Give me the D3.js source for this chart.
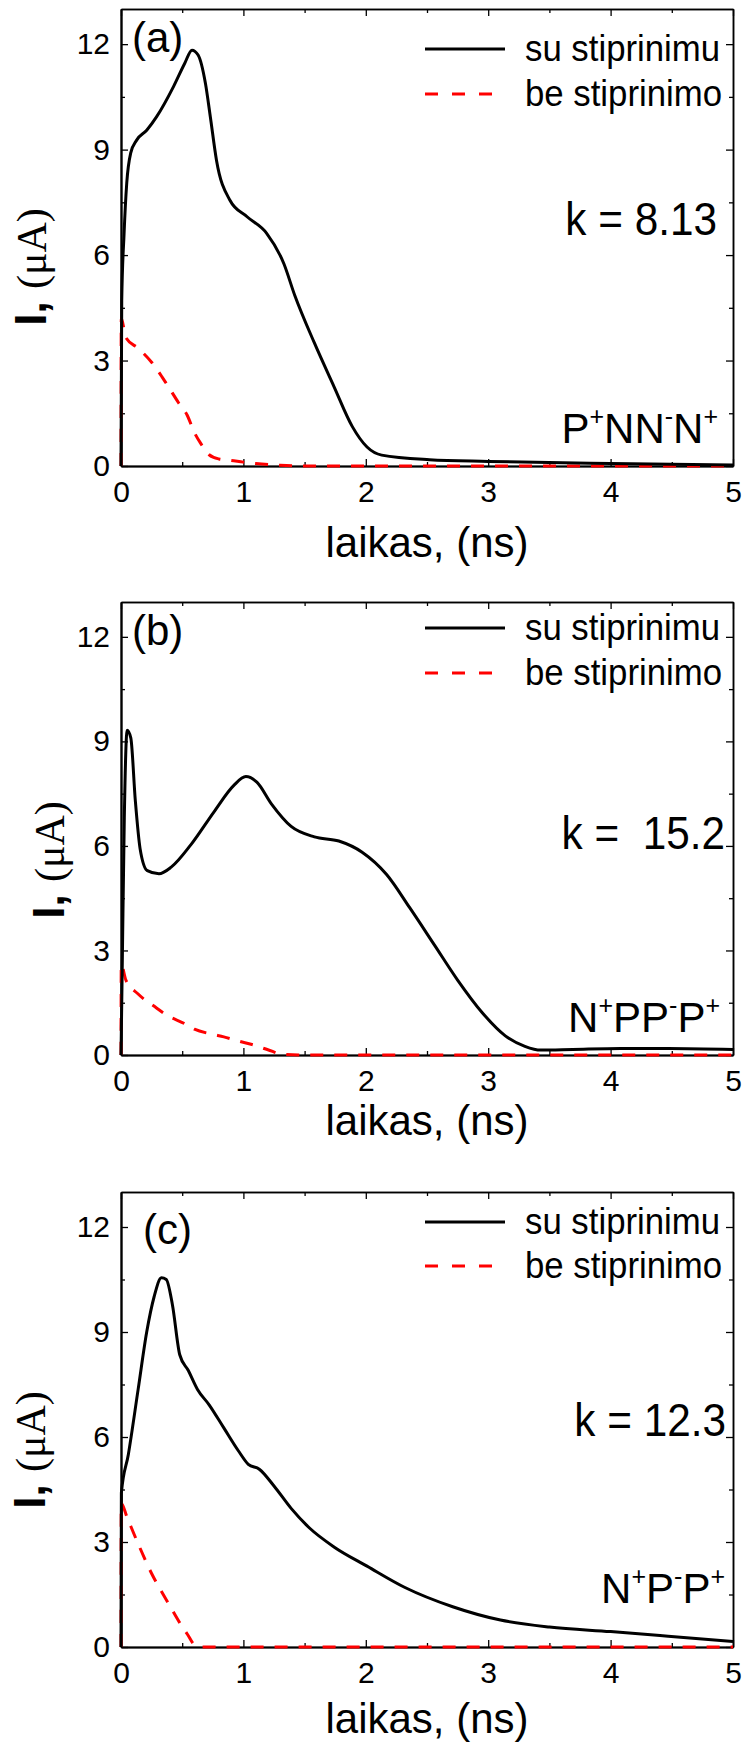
<!DOCTYPE html>
<html>
<head>
<meta charset="utf-8">
<script src="https://cdn.jsdelivr.net/npm/d3@7"></script>
<style>
  body { margin: 0; background: #fff; }
  svg text { font-family: "Liberation Sans", Arial, sans-serif; fill: #000; }
</style>
</head>
<body>
<svg id="chart" width="748" height="1742"></svg>
<script>
// ---- data: [time ns, current uA] ----
const xTicks = [0, 1, 2, 3, 4, 5];
const xMinor = [0.5, 1.5, 2.5, 3.5, 4.5];
const yTicks = [0, 3, 6, 9, 12];
const yMinor = [1.5, 4.5, 7.5, 10.5];
const seriesNames = ["su stiprinimu", "be stiprinimo"];
const panelLetters = ["(a)", "(b)", "(c)"];
const kLabels = ["k = 8.13", "k =  15.2", "k = 12.3"];
// structure labels: [letter, superscript]
const structA = [["P", "+"], ["N", ""], ["N", "-"], ["N", "+"]];
const structB = [["N", "+"], ["P", ""], ["P", "-"], ["P", "+"]];
const structC = [["N", "+"], ["P", "-"], ["P", "+"]];

const aWith = [[0,0],[0.006,4.7],[0.025,6.6],[0.047,8.05],[0.079,8.9],[0.128,9.27],[0.21,9.55],[0.29,9.93],
  [0.43,10.8],[0.52,11.45],[0.58,11.83],[0.63,11.69],[0.69,10.88],[0.73,9.93],[0.78,8.7],[0.89,7.56],
  [1.03,7.09],[1.19,6.62],[1.33,5.76],[1.42,4.85],[1.58,3.5],[1.74,2.26],[1.89,1.12],[2.01,0.54],
  [2.13,0.31],[2.52,0.18],[3.0,0.13],[4.0,0.07],[5,0.03]];
const aWithout = [[0,0],[0.002,4.2],[0.04,3.65],[0.14,3.35],[0.25,2.95],[0.37,2.35],[0.47,1.8],[0.54,1.45],
  [0.6,0.95],[0.65,0.65],[0.72,0.32],[0.8,0.2],[0.9,0.16],[1.0,0.11],[1.1,0.07],[1.3,0.02],[1.5,0],[5,0]];

const bWith = [[0,0],[0.01,2.5],[0.027,6.8],[0.05,9.32],[0.08,9.1],[0.117,7.3],[0.156,5.92],[0.215,5.29],
  [0.31,5.2],[0.41,5.39],[0.57,6.03],[0.76,6.98],[0.92,7.73],[1.02,7.99],[1.11,7.83],[1.23,7.2],[1.39,6.56],
  [1.58,6.26],[1.78,6.14],[1.97,5.82],[2.17,5.18],[2.36,4.22],[2.56,3.16],[2.75,2.15],[2.95,1.22],[3.14,0.55],
  [3.3,0.25],[3.43,0.14],[3.69,0.16],[4.08,0.19],[4.47,0.19],[5,0.16]];
const bWithout = [[0,0],[0.002,2.6],[0.04,2.15],[0.14,1.75],[0.29,1.35],[0.37,1.15],[0.52,0.9],[0.6,0.74],
  [0.74,0.6],[0.84,0.52],[0.97,0.39],[1.07,0.3],[1.2,0.15],[1.32,0.02],[1.45,0],[5,0]];

const cWith = [[0,0],[0.003,4.4],[0.06,5.5],[0.14,7.36],[0.21,9.0],[0.27,10.0],[0.33,10.55],[0.37,10.5],
  [0.42,9.78],[0.48,8.35],[0.55,7.9],[0.625,7.36],[0.72,6.92],[0.84,6.26],[0.96,5.6],[1.04,5.22],[1.13,5.08],
  [1.25,4.6],[1.39,3.96],[1.54,3.4],[1.74,2.86],[2.01,2.31],[2.32,1.7],[2.71,1.15],[3.1,0.77],[3.5,0.57],
  [4.0,0.44],[4.47,0.31],[5,0.16]];
const cWithout = [[0,0],[0.002,4.1],[0.05,3.7],[0.14,2.95],[0.25,2.1],[0.345,1.5],[0.4,1.17],[0.48,0.69],
  [0.545,0.35],[0.6,0.06],[0.65,0],[5,0]];

// ---- layout ----
const left = 121, right = 733;
const panels = [
  {top: 9, bottom: 466, withData: aWith, withoutData: aWithout, struct: structA,
   letterX: 132, letterY: 52, legY: [49, 94], kX: 717, kY: 235, sX: 718, sY: 443, yLabX: 46, xLabY: 557},
  {top: 602, bottom: 1055, withData: bWith, withoutData: bWithout, struct: structB,
   letterX: 132, letterY: 645, legY: [628, 673], kX: 725, kY: 849, sX: 720, sY: 1032, yLabX: 64, xLabY: 1135},
  {top: 1192, bottom: 1647, withData: cWith, withoutData: cWithout, struct: structC,
   letterX: 143, letterY: 1244, legY: [1222, 1266], kX: 726, kY: 1436, sX: 725, sY: 1603, yLabX: 45, xLabY: 1733}
];

const svg = d3.select("#chart");

// text squeezed a little sideways, like the original
function squeezed(g, x, y, str, size, sx, anchor) {
  return g.append("text")
    .attr("transform", `translate(${x},${y}) scale(${sx},1)`)
    .attr("text-anchor", anchor)
    .style("font-size", size + "px")
    .style("white-space", "pre")
    .text(str);
}

panels.forEach((p, i) => {
  const x = d3.scaleLinear().domain([0, 5]).range([left, right]);
  const y = d3.scaleLinear().domain([0, 13]).range([p.bottom, p.top]);
  const g = svg.append("g");

  // axes: major + minor ticks inward, mirrored on top/right
  const bottomAx = g.append("g").attr("transform", `translate(0,${p.bottom})`)
    .call(d3.axisBottom(x).tickValues(xTicks).tickFormat(d3.format("d")).tickSizeInner(-7).tickSizeOuter(0).tickPadding(15));
  g.append("g").attr("transform", `translate(0,${p.bottom})`)
    .call(d3.axisBottom(x).tickValues(xMinor).tickFormat("").tickSizeInner(-4).tickSizeOuter(0));
  const leftAx = g.append("g").attr("transform", `translate(${left},0)`)
    .call(d3.axisLeft(y).tickValues(yTicks).tickFormat(d3.format("d")).tickSizeInner(-7).tickSizeOuter(0).tickPadding(11));
  g.append("g").attr("transform", `translate(${left},0)`)
    .call(d3.axisLeft(y).tickValues(yMinor).tickFormat("").tickSizeInner(-4).tickSizeOuter(0));
  g.append("g").attr("transform", `translate(0,${p.top})`)
    .call(d3.axisTop(x).tickValues(xTicks).tickFormat("").tickSizeInner(-7).tickSizeOuter(0));
  g.append("g").attr("transform", `translate(0,${p.top})`)
    .call(d3.axisTop(x).tickValues(xMinor).tickFormat("").tickSizeInner(-4).tickSizeOuter(0));
  g.append("g").attr("transform", `translate(${right},0)`)
    .call(d3.axisRight(y).tickValues(yTicks).tickFormat("").tickSizeInner(-7).tickSizeOuter(0));
  g.append("g").attr("transform", `translate(${right},0)`)
    .call(d3.axisRight(y).tickValues(yMinor).tickFormat("").tickSizeInner(-4).tickSizeOuter(0));

  g.selectAll(".domain").attr("stroke", "#000").attr("stroke-width", 1.5);
  bottomAx.select(".domain").attr("stroke-width", 2.2);
  leftAx.select(".domain").attr("stroke-width", 2.2);
  g.selectAll(".tick line").attr("stroke", "#000").attr("stroke-width", 1.3);
  g.selectAll(".tick text").attr("font-family", null).style("font-size", "30px");

  // curves
  const line = d3.line().x(d => x(d[0])).y(d => y(d[1])).curve(d3.curveMonotoneX);
  g.append("path").datum(p.withoutData).attr("d", line)
    .attr("fill", "none").attr("stroke", "#ff0000").attr("stroke-width", 3)
    .attr("stroke-dasharray", "13,11");
  g.append("path").datum(p.withData).attr("d", line)
    .attr("fill", "none").attr("stroke", "#000").attr("stroke-width", 3)
    .attr("stroke-linejoin", "round");

  // legend
  g.append("line").attr("x1", 425).attr("x2", 505).attr("y1", p.legY[0]).attr("y2", p.legY[0])
    .attr("stroke", "#000").attr("stroke-width", 3);
  g.append("line").attr("x1", 425).attr("x2", 492).attr("y1", p.legY[1]).attr("y2", p.legY[1])
    .attr("stroke", "#ff0000").attr("stroke-width", 3).attr("stroke-dasharray", "13,14");
  squeezed(g, 525, p.legY[0] + 12, seriesNames[0], 37, 0.94, "start");
  squeezed(g, 525, p.legY[1] + 12, seriesNames[1], 37, 0.94, "start");

  // panel letter, k value, structure
  squeezed(g, p.letterX, p.letterY, panelLetters[i], 42, 1, "start");
  squeezed(g, p.kX, p.kY, kLabels[i], 46, 0.92, "end");

  const st = g.append("text").attr("x", p.sX).attr("y", p.sY).attr("text-anchor", "end")
    .style("font-size", "42px");
  let shift = 0;
  p.struct.forEach(([main, sup]) => {
    st.append("tspan").attr("dy", shift).text(main);
    shift = 0;
    if (sup) {
      st.append("tspan").attr("dy", -18).style("font-size", "25px").text(sup);
      shift = 18;
    }
  });

  // axis titles
  g.append("text").attr("x", (left + right) / 2).attr("y", p.xLabY)
    .attr("text-anchor", "middle").style("font-size", "42px")
    .text("laikas, (ns)");

  const yl = g.append("text")
    .attr("transform", `translate(${p.yLabX},${p.top + 258}) rotate(-90)`)
    .attr("text-anchor", "middle");
  yl.append("tspan").style("font-size", "44px").style("font-weight", "bold").text("I, ");
  yl.append("tspan").style("font-family", "'Liberation Serif', 'Times New Roman', serif")
    .style("font-size", "42px").text("(μA)");
});
</script>
</body>
</html>
